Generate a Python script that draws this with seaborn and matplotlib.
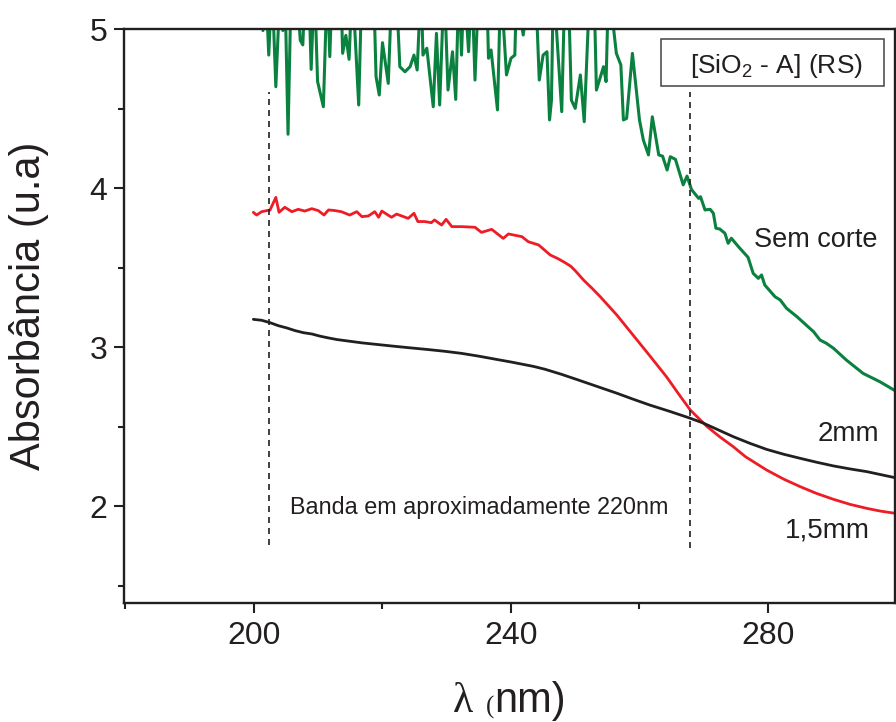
import matplotlib
matplotlib.use("Agg")
import matplotlib.pyplot as plt
from matplotlib.patches import Rectangle
from matplotlib.ticker import MultipleLocator
import seaborn as sns
import pandas as pd

# ---------------- data ----------------
# 2mm (black)
x_2mm = [199.9, 201.2, 202.5, 203.8, 205.1, 206.4, 207.7, 209.0, 210.3, 211.6,
         212.9, 214.2, 216.8, 219.4, 222.0, 224.5, 227.1, 229.7, 232.3, 234.9,
         238.3, 240.1, 243.5, 245.3, 247.8, 250.3, 253.4, 256.5, 259.0, 261.6,
         264.8, 267.9, 269.9, 272.2, 274.6, 277.2, 279.8, 282.4, 285.0, 287.6,
         290.2, 292.8, 295.4, 297.6, 299.8]
y_2mm = [3.174, 3.168, 3.153, 3.134, 3.120, 3.103, 3.090, 3.082, 3.068, 3.057,
         3.047, 3.040, 3.026, 3.015, 3.004, 2.994, 2.984, 2.973, 2.960, 2.943,
         2.918, 2.905, 2.878, 2.860, 2.829, 2.795, 2.752, 2.709, 2.672, 2.635,
         2.594, 2.552, 2.522, 2.480, 2.436, 2.394, 2.356, 2.326, 2.300, 2.275,
         2.252, 2.233, 2.216, 2.197, 2.178]

# 1,5mm (red)
x_15mm = [199.9, 200.4, 201.2, 202.5, 203.4, 203.9, 204.8, 205.9, 206.9, 207.9,
          209.0, 210.0, 210.9, 211.6, 212.6, 213.6, 214.9, 216.0, 216.8, 217.8,
          218.8, 219.4, 219.9, 221.4, 222.2, 224.0, 224.9, 225.5, 226.6, 227.6,
          228.1, 229.2, 229.9, 230.8, 232.3, 234.4, 235.4, 237.0, 238.8, 239.6,
          241.7, 242.7, 244.3, 246.1, 247.3, 248.4, 249.3, 250.0, 251.3, 252.6,
          253.9, 256.5, 259.0, 261.6, 264.2, 266.0, 267.9, 270.5, 272.5, 274.6,
          276.5, 279.8, 282.5, 285.0, 287.5, 290.2, 292.8, 295.4, 297.5, 299.8]
y_15mm = [3.847, 3.830, 3.851, 3.862, 3.941, 3.847, 3.879, 3.851, 3.866, 3.855,
          3.870, 3.858, 3.830, 3.862, 3.858, 3.851, 3.830, 3.851, 3.820, 3.824,
          3.851, 3.816, 3.855, 3.816, 3.836, 3.809, 3.841, 3.789, 3.789, 3.782,
          3.799, 3.767, 3.803, 3.757, 3.757, 3.753, 3.721, 3.740, 3.683, 3.711,
          3.694, 3.662, 3.642, 3.579, 3.556, 3.531, 3.508, 3.480, 3.421, 3.370,
          3.316, 3.200, 3.075, 2.945, 2.813, 2.710, 2.604, 2.500, 2.435, 2.373,
          2.310, 2.226, 2.168, 2.122, 2.080, 2.042, 2.010, 1.985, 1.968, 1.954]

# Sem corte (green) - values above 5 are off-scale in the original
x_sem = [200.0, 201.0, 201.4, 201.8, 202.3, 202.8, 203.4, 204.0, 204.5, 204.8,
         205.3, 205.8, 206.8, 207.2, 207.6, 207.9, 208.5, 208.9, 209.4, 209.9,
         210.8, 211.4, 211.8, 212.2, 213.5, 213.8, 214.3, 214.8, 215.3, 216.3,
         216.8, 218.6, 219.0, 219.5, 220.0, 220.9, 221.5, 222.1, 222.7, 223.5,
         224.3, 224.9, 225.4, 226.0, 226.3, 226.9, 227.9, 228.4, 228.9, 229.6,
         230.2, 230.9, 231.4, 231.9, 232.3, 232.7, 233.4, 233.9, 234.4, 235.0,
         236.2, 236.5, 236.9, 237.9, 238.4, 239.3, 240.0, 240.6, 240.9, 241.6,
         241.9, 242.2, 243.8, 244.4, 245.0, 245.6, 246.0, 246.3, 246.6, 247.9,
         248.4, 248.9, 249.4, 250.0, 250.8, 251.4, 252.3, 252.9, 253.3, 254.4,
         254.8, 255.2, 255.7, 256.4, 257.1, 257.5, 258.0, 258.9, 260.0, 260.6,
         261.4, 262.0, 263.0, 263.6, 264.3, 264.8, 265.6, 266.8, 267.4, 268.1,
         269.2, 269.5, 270.2, 271.0, 271.5, 271.9, 272.5, 273.3, 273.8, 274.3,
         275.4, 276.9, 277.7, 278.5, 279.0, 279.5, 281.1, 281.9, 282.9, 284.5,
         287.1, 288.1, 289.1, 290.2, 292.2, 294.8, 297.4, 299.8]
y_sem = [5.40, 5.20, 4.99, 5.30, 4.836, 5.30, 4.637, 5.20, 4.99, 5.30,
         4.338, 5.30, 5.20, 4.93, 4.90, 5.20, 5.30, 4.746, 5.30, 4.67,
         4.511, 5.30, 4.826, 5.30, 5.30, 4.847, 4.96, 4.809, 5.30, 4.522,
         5.30, 5.30, 4.70, 4.585, 4.914, 4.658, 5.30, 5.30, 4.763, 4.731,
         4.763, 4.836, 4.742, 5.30, 4.836, 4.879, 4.511, 4.973, 4.522, 5.30,
         4.616, 4.857, 4.557, 5.30, 4.836, 5.30, 4.857, 5.30, 4.679, 5.30,
         5.30, 4.816, 4.868, 4.491, 5.30, 4.711, 4.816, 4.836, 5.30, 5.05,
         4.962, 5.05, 5.30, 4.679, 4.836, 4.857, 4.428, 4.55, 5.30, 4.48,
         5.30, 5.30, 4.553, 4.501, 4.711, 4.417, 5.30, 5.30, 4.616, 4.763,
         4.669, 5.30, 5.10, 4.847, 4.774, 4.428, 4.438, 4.847, 4.428, 4.302,
         4.208, 4.448, 4.208, 4.20, 4.113, 4.197, 4.18, 4.02, 4.075, 3.99,
         3.935, 3.945, 3.862, 3.866, 3.841, 3.747, 3.742, 3.715, 3.652, 3.684,
         3.631, 3.564, 3.463, 3.432, 3.453, 3.390, 3.316, 3.296, 3.243, 3.191,
         3.096, 3.044, 3.023, 2.992, 2.918, 2.834, 2.782, 2.725]

band_lines_x = [202.3, 267.9]
xticks_major = [200, 240, 280]
yticks_major = [2, 3, 4, 5]

# ---------------- style ----------------
sns.set_style("ticks")
plt.rcParams['font.family'] = ['Liberation Sans', 'DejaVu Sans']
plt.rcParams['mathtext.fontset'] = 'custom'
plt.rcParams['mathtext.rm'] = 'Liberation Sans'
plt.rcParams['mathtext.it'] = 'Liberation Sans'
TXT = '#231f20'

W, H = 896, 722
fig = plt.figure(figsize=(W / 100, H / 100), dpi=100)
ax = fig.add_axes([124 / W, 119 / H, 771 / W, 574 / H])

df_2 = pd.DataFrame({'x': x_2mm, 'y': y_2mm})
df_15 = pd.DataFrame({'x': x_15mm, 'y': y_15mm})
df_s = pd.DataFrame({'x': x_sem, 'y': y_sem})

sns.lineplot(data=df_s, x='x', y='y', ax=ax, color='#0b8140', lw=2.2,
             estimator=None, sort=False, legend=False)
sns.lineplot(data=df_15, x='x', y='y', ax=ax, color='#ee1c25', lw=2.0,
             estimator=None, sort=False, legend=False)
sns.lineplot(data=df_2, x='x', y='y', ax=ax, color=TXT, lw=2.0,
             estimator=None, sort=False, legend=False)

# dashed band markers
ax.plot([band_lines_x[0]] * 2, [1.755, 4.604], color=TXT, lw=1.2, dashes=(3.6, 3))
ax.plot([band_lines_x[1]] * 2, [1.736, 4.604], color=TXT, lw=1.2, dashes=(3.6, 3))

ax.set_xlim(179.77, 299.77)
ax.set_ylim(1.39, 5.0)
ax.set_xticks(xticks_major)
ax.set_yticks(yticks_major)
ax.xaxis.set_minor_locator(MultipleLocator(20))
ax.yaxis.set_minor_locator(MultipleLocator(0.5))
ax.tick_params(which='major', direction='out', length=7, width=1.5,
               labelsize=23, labelcolor=TXT, color=TXT, pad=6)
ax.tick_params(which='minor', direction='out', length=4, width=1.5, color=TXT)
ax.tick_params(axis='y', pad=5)
for s in ax.spines.values():
    s.set_visible(True)
    s.set_linewidth(1.7)
    s.set_color(TXT)
ax.set_xlabel('')
ax.set_ylabel('')

# annotations
ax.text(287.5, 3.673, 'Sem corte', fontsize=19.5, color=TXT, ha='center', va='center')
ax.text(292.5, 2.453, '2mm', fontsize=20, color=TXT, ha='center', va='center')
ax.text(289.3, 1.849, '1,5mm', fontsize=20, color=TXT, ha='center', va='center')
ax.text(205.6, 1.99, 'Banda em aproximadamente 220nm', fontsize=16.8, color=TXT,
        ha='left', va='center')

ax.add_patch(Rectangle((263.35, 4.642), 34.7, 0.295, fill=False,
                       edgecolor='#444444', lw=1.1, zorder=5))
ax.text(281.25, 4.723, r'[SiO$_2$ - A] (RS)', fontsize=19, color=TXT,
        ha='center', va='baseline', zorder=6)

# axis titles
fig.text(29 / W, 1 - 306 / H, 'Absorbância (u.a)', rotation=90, fontsize=30,
         color=TXT, ha='center', va='center')
fig.text(453 / W, 1 - 712 / H, 'λ', fontsize=30, color=TXT, ha='left',
         va='baseline', family=['Liberation Serif', 'DejaVu Serif'])
fig.text(486 / W, 1 - 714 / H, '(', fontsize=18, color=TXT, ha='left',
         va='baseline', family=['Liberation Serif', 'DejaVu Serif'])
fig.text(494 / W, 1 - 712 / H, 'nm)', fontsize=30, color=TXT, ha='left',
         va='baseline')

fig.savefig('out.png', dpi=100)
